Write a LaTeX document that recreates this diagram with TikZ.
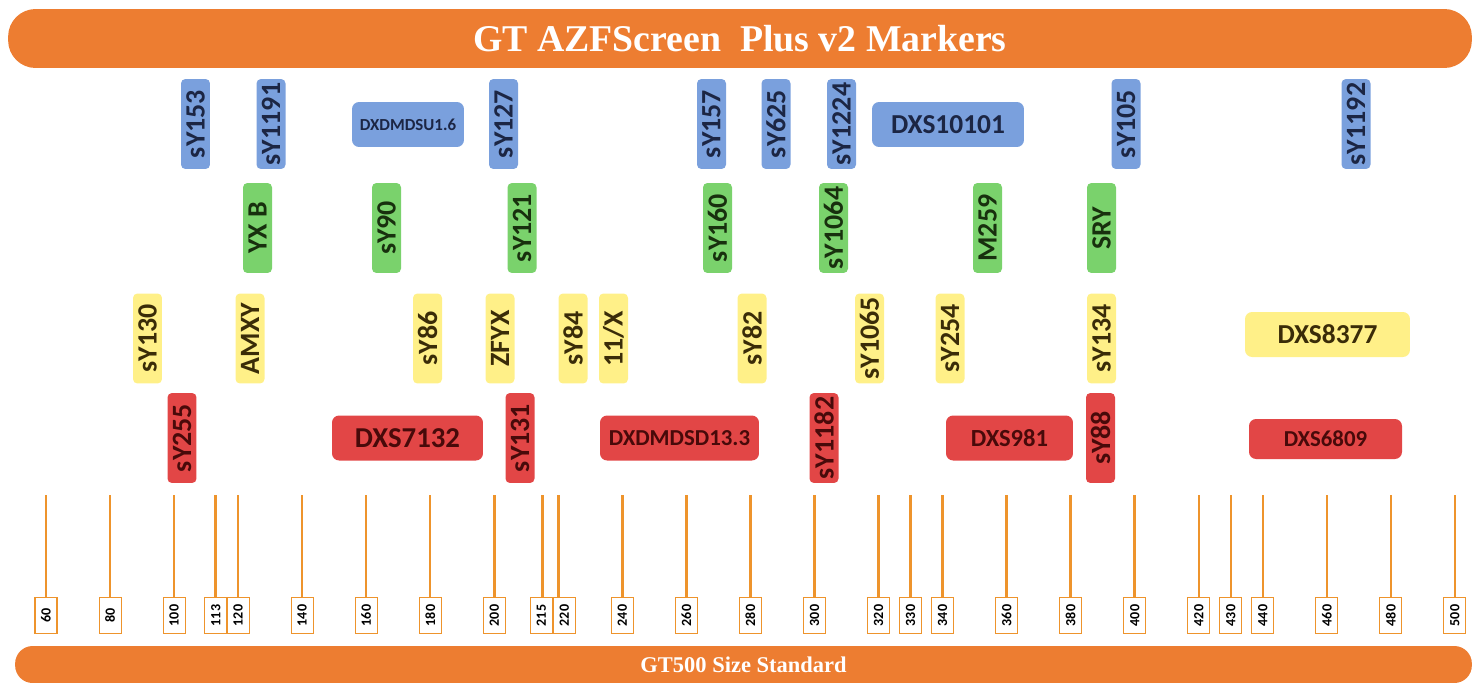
\documentclass[tikz,border=0pt]{standalone}
\usepackage{fontspec}
\setmainfont{Carlito}
\newfontfamily\bannerfont{Liberation Serif}
\usepackage{xcolor}
\definecolor{bannerorange}{RGB}{237,125,49}
\definecolor{tickorange}{RGB}{238,148,44}
\definecolor{mkblue}{RGB}{122,160,221}
\definecolor{mkgreen}{RGB}{122,210,108}
\definecolor{mkyellow}{RGB}{255,240,136}
\definecolor{mkred}{RGB}{226,70,70}
\definecolor{bluetext}{RGB}{28,38,68}
\definecolor{greentext}{RGB}{24,48,14}
\definecolor{yellowtext}{RGB}{58,44,8}
\definecolor{redtext}{RGB}{72,10,10}

\begin{document}
\begin{tikzpicture}[
    x=0.02cm, y=-0.02cm,
    banner/.style={rectangle, fill=bannerorange, text=white, inner sep=0pt},
    vmark/.style={rectangle, rounded corners=2.5pt, rotate=90, minimum width=1.8cm, minimum height=0.58cm, inner sep=0pt, font=\bfseries\fontsize{15.9}{18}\selectfont},
    hmark/.style={rectangle, rounded corners=4pt, minimum height=0.9cm, inner sep=0pt, font=\bfseries\fontsize{15.6}{18}\selectfont},
    bluemk/.style={fill=mkblue, text=bluetext},
    greenmk/.style={fill=mkgreen, text=greentext},
    yellowmk/.style={fill=mkyellow, text=yellowtext},
    redmk/.style={fill=mkred, text=redtext},
    sizebox/.style={rectangle, rotate=90, draw=tickorange, line width=0.6pt, fill=white, minimum width=0.72cm, minimum height=0.44cm, inner sep=0pt, font=\bfseries\fontsize{8}{9}\selectfont},
    tickline/.style={draw=tickorange, line width=1.4pt},
]
    \useasboundingbox (0,0) rectangle (1481,683);

    % Title banner
    \node[banner, minimum width=29.28cm, minimum height=1.18cm, rounded corners=0.55cm, font=\bannerfont\bfseries\fontsize{21.5}{24}\selectfont] (title) at (740,38.5) {GT AZFScreen~ Plus v2 Markers};

    % Blue row
    \node[vmark, bluemk] (sy153) at (195.5,124) {sY153};
    \node[vmark, bluemk] (sy1191) at (271,124) {sY1191};
    \node[hmark, bluemk, minimum width=2.24cm, font=\bfseries\fontsize{9.6}{11}\selectfont] (dxdmdsu) at (408,124.5) {DXDMDSU1.6};
    \node[vmark, bluemk] (sy127) at (503.5,124) {sY127};
    \node[vmark, bluemk] (sy157) at (711.5,124) {sY157};
    \node[vmark, bluemk] (sy625) at (776,124) {sY625};
    \node[vmark, bluemk] (sy1224) at (841.5,124) {sY1224};
    \node[hmark, bluemk, minimum width=3.04cm] (dxs10101) at (948,124.5) {DXS10101};
    \node[vmark, bluemk] (sy105) at (1126,124) {sY105};
    \node[vmark, bluemk] (sy1192) at (1356,124) {sY1192};

    % Green row
    \node[vmark, greenmk] (yxb) at (257.5,228) {YX B};
    \node[vmark, greenmk] (sy90) at (386.5,228) {sY90};
    \node[vmark, greenmk] (sy121) at (522,228) {sY121};
    \node[vmark, greenmk] (sy160) at (717.5,228) {sY160};
    \node[vmark, greenmk] (sy1064) at (833.5,228) {sY1064};
    \node[vmark, greenmk] (m259) at (987.5,228) {M259};
    \node[vmark, greenmk] (sry) at (1101.5,228) {SRY};

    % Yellow row
    \node[vmark, yellowmk] (sy130) at (147.5,338.5) {sY130};
    \node[vmark, yellowmk] (amxy) at (250,338.5) {AMXY};
    \node[vmark, yellowmk] (sy86) at (427.5,338.5) {sY86};
    \node[vmark, yellowmk] (zfyx) at (500,338.5) {ZFYX};
    \node[vmark, yellowmk] (sy84) at (573,338.5) {sY84};
    \node[vmark, yellowmk] (x11) at (613.5,338.5) {11/X};
    \node[vmark, yellowmk] (sy82) at (752,338.5) {sY82};
    \node[vmark, yellowmk] (sy1065) at (869.5,338.5) {sY1065};
    \node[vmark, yellowmk] (sy254) at (950,338.5) {sY254};
    \node[vmark, yellowmk] (sy134) at (1101.5,338.5) {sY134};
    \node[hmark, yellowmk, minimum width=3.3cm] (dxs8377) at (1327.5,334.5) {DXS8377};

    % Red row
    \node[vmark, redmk] (sy255) at (182,438) {sY255};
    \node[hmark, redmk, minimum width=3.02cm, font=\bfseries\fontsize{16.4}{18}\selectfont] (dxs7132) at (407.5,438) {DXS7132};
    \node[vmark, redmk] (sy131) at (520,438) {sY131};
    \node[hmark, redmk, minimum width=3.18cm, font=\bfseries\fontsize{13}{15}\selectfont] (dxdmdsd) at (679.5,438) {DXDMDSD13.3};
    \node[vmark, redmk] (sy1182) at (824,438) {sY1182};
    \node[hmark, redmk, minimum width=2.54cm, font=\bfseries\fontsize{14}{16}\selectfont] (dxs981) at (1009.5,438) {DXS981};
    \node[vmark, redmk] (sy88) at (1100.5,438) {sY88};
    \node[hmark, redmk, minimum width=3.06cm, minimum height=0.8cm, font=\bfseries\fontsize{13}{15}\selectfont] (dxs6809) at (1325.5,439) {DXS6809};

    % Size ladder
    \foreach \s/\dx in {60/0,80/0,100/0,113/0,120/0,140/0,160/0,180/0,200/0,215/-1,220/6,240/0,260/0,280/0,300/0,320/0,330/0,340/0,360/0,380/0,400/0,420/0,430/0,440/0,460/0,480/0,500/0}
    {
        \pgfmathsetmacro{\px}{46+(\s-60)*3.202}
        \coordinate (top\s) at (\px,495);
        \node[sizebox] (size\s) at (\px+\dx,615.5) {\s};
        \draw[tickline] (top\s) -- (top\s |- size\s.east);
    }

    % Size standard banner
    \node[banner, minimum width=29.14cm, minimum height=0.74cm, rounded corners=0.35cm, font=\bannerfont\bfseries\fontsize{12.8}{15}\selectfont] (standard) at (743.5,664.5) {GT500 Size Standard};

\end{tikzpicture}
\end{document}
